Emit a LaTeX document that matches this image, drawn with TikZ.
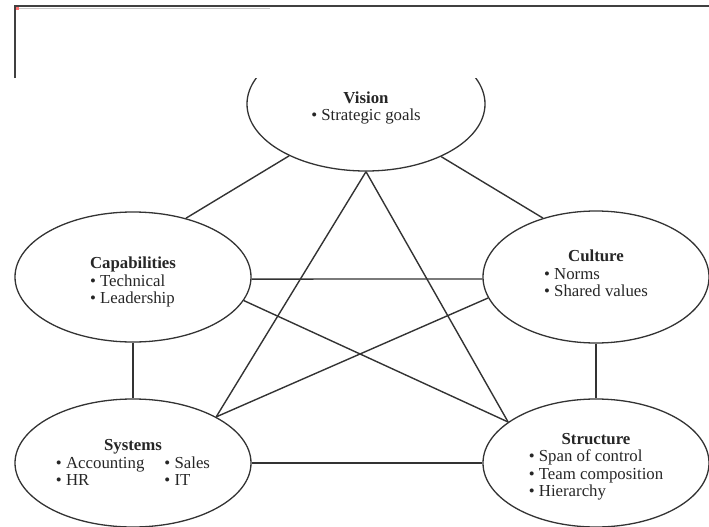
\documentclass[tikz,border=0pt]{standalone}
\usepackage{fontspec}
\setmainfont{Liberation Serif}
\usetikzlibrary{shapes.geometric}

\tikzset{
  bubble/.style={ellipse, draw=black!80, line width=1.3pt, inner sep=0pt,
    text=black!85, font=\fontsize{16.8}{17.5}\selectfont},
  link/.style={draw=black!80, line width=1.4pt},
  frame/.style={draw=black!75, line width=1.5pt},
}
\newcommand{\itm}{\textbullet\ }
\newcommand{\ttl}[1]{\multicolumn{1}{@{}c@{}}{\textbf{#1}}}
% moves a text block down by #1 without changing its size
\newcommand{\nudge}[2]{\raisebox{-#1}[\height][\depth]{#2}}

\begin{document}
\begin{tikzpicture}[x=1pt,y=-1pt]
\useasboundingbox (0,0) rectangle (709,527);

% the five ellipses
\node[bubble, minimum width=238pt, minimum height=134pt] (vision) at (366,104)
  {\nudge{4.5pt}{\begin{tabular}{@{}l@{}}\ttl{Vision}\\ \itm Strategic goals\end{tabular}}};
\node[bubble, minimum width=236pt, minimum height=130pt] (cap) at (133,277)
  {\nudge{5.5pt}{\begin{tabular}{@{}l@{}}\ttl{Capabilities}\\ \itm Technical\\ \itm Leadership\end{tabular}}};
\node[bubble, minimum width=226pt, minimum height=132pt] (cul) at (596,277)
  {\nudge{-1.5pt}{\begin{tabular}{@{}l@{}}\ttl{Culture}\\ \itm Norms\\ \itm Shared values\end{tabular}}};
\node[bubble, minimum width=236pt, minimum height=128pt] (sys) at (133,463)
  {\nudge{1.5pt}{\begin{tabular}{@{}l@{\hspace{20pt}}l@{}}\multicolumn{2}{@{}c@{}}{\textbf{Systems}}\\ \itm Accounting & \itm Sales\\ \itm HR & \itm IT\end{tabular}}};
\node[bubble, minimum width=226pt, minimum height=128pt] (str) at (596,463)
  {\nudge{4pt}{\begin{tabular}{@{}l@{}}\ttl{Structure}\\ \itm Span of control\\ \itm Team composition\\ \itm Hierarchy\end{tabular}}};

% connectors
\draw[link] (vision.214) -- (cap.48);
\draw[link] (vision.325) -- (cul.132);
\draw[link] (vision.270) -- (sys.29);
\draw[link] (vision.270) -- (str.155);
\draw[link] (cap.-1) -- (cul.181);
\draw[link] (cap.-12) -- (str.155);
\draw[link] (cul.191) -- (sys.29);
\draw[link] (cap.south) -- (sys.north);
\draw[link] (cul.south) -- (str.north);
\draw[link] (sys.east) -- (str.west);

% top strip: the ellipse is cut off by the page frame area
\fill[white] (230,0) rectangle (500,78);
\draw[frame] (15,78) -- (15,6) -- (709,6);
\fill[black!22] (19,8.2) rectangle (270,9.2);
\fill[red!55] (16,7.4) rectangle (18.6,9.8);
\end{tikzpicture}
\end{document}
